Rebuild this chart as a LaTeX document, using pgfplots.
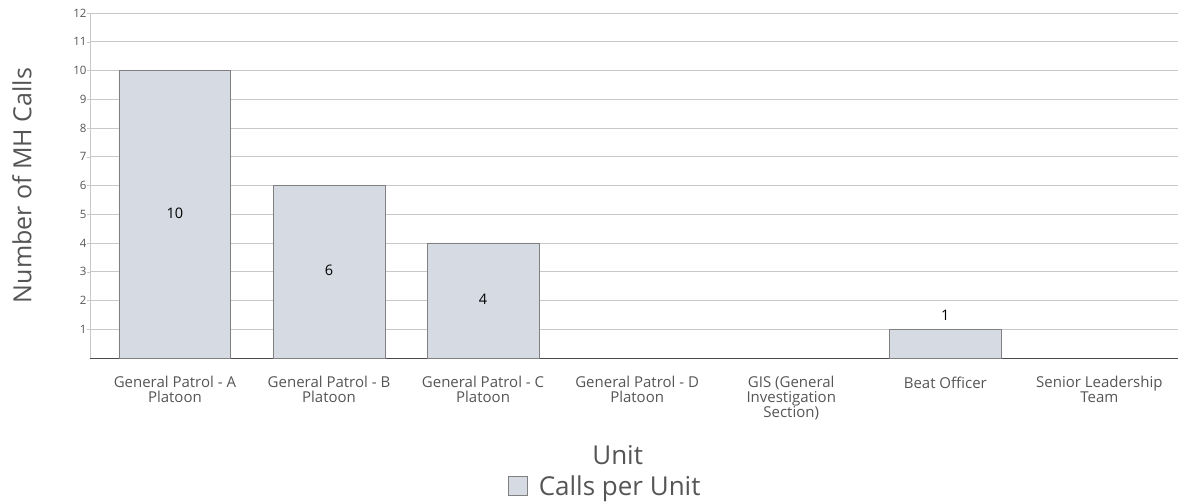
\documentclass[border=0pt]{standalone}
\usepackage{pgfplots}
\pgfplotsset{compat=1.18}
\usepackage{fontspec}
\setmainfont{Open Sans}
\definecolor{barfill}{RGB}{214,218,227}
\definecolor{barline}{RGB}{128,128,128}
\definecolor{txt}{RGB}{85,85,85}
\definecolor{gridc}{RGB}{200,200,200}
\begin{document}
\begin{tikzpicture}
\useasboundingbox (-90pt,-144pt) rectangle (1088pt,358pt);
\begin{axis}[
  at={(0,0)}, anchor=south west,
  scale only axis,
  width=1088pt, height=345pt,
  xmin=-0.551, xmax=6.51,
  ymin=0, ymax=12,
  ytick={1,...,12},
  xtick={0,...,6},
  xticklabels={General Patrol - A\\Platoon,General Patrol - B\\Platoon,General Patrol - C\\Platoon,General Patrol - D\\Platoon,GIS (General\\Investigation\\Section),Beat Officer,Senior Leadership\\Team},
  x tick label style={align=center, font=\fontsize{15}{15}\selectfont, text=txt, yshift=-12pt, anchor=north},
  y tick label style={font=\fontsize{11.5}{12}\selectfont, text=txt, xshift=3pt},
  /pgf/number format/assume math mode=true,
  major x tick style={draw=none},
  major y tick style={draw=gridc},
  tick align=outside,
  major tick length=3pt,
  axis x line*=bottom,
  axis y line*=left,
  x axis line style={draw=black!70, line width=0.8pt, -},
  y axis line style={draw=gridc, line width=0.8pt, -},
  ymajorgrids,
  grid style={draw=gridc, line width=0.8pt},
  ylabel={Number of MH Calls},
  ylabel style={at={(axis description cs:-0.0625,0.5)}, anchor=center, font=\fontsize{25}{27}\selectfont, text=txt},
  xlabel={Unit},
  xlabel style={at={(rel axis cs:0.485,0)}, anchor=base, yshift=-107pt, font=\fontsize{26}{28}\selectfont, text=txt},
  legend style={at={(rel axis cs:0.384,0)}, anchor=west, yshift=-128pt, draw=none, fill=none,
    inner sep=0pt, column sep=9pt, font=\fontsize{26}{28}\selectfont, text=txt},
  legend image code/.code={\draw[fill=barfill, draw=barline, line width=0.8pt] (0pt,-9.5pt) rectangle (19pt,9.5pt);},
  clip=false,
]
\addplot[ybar, bar width=0.726, bar shift=0pt, fill=barfill, draw=barline, line width=0.8pt] coordinates {
  (0,10) (1,6) (2,4) (5,1)
};
\addlegendentry{Calls per Unit}
% value labels
\addplot[draw=none, mark=none, forget plot,
  nodes near coords, point meta=explicit symbolic,
  every node near coord/.style={anchor=center, font=\fontsize{14.5}{16}\selectfont, text=black}]
  coordinates {(0,5.04)[10] (1,3.06)[6] (2,2.05)[4] (5,1.5)[1]};
\end{axis}
\end{tikzpicture}
\end{document}
